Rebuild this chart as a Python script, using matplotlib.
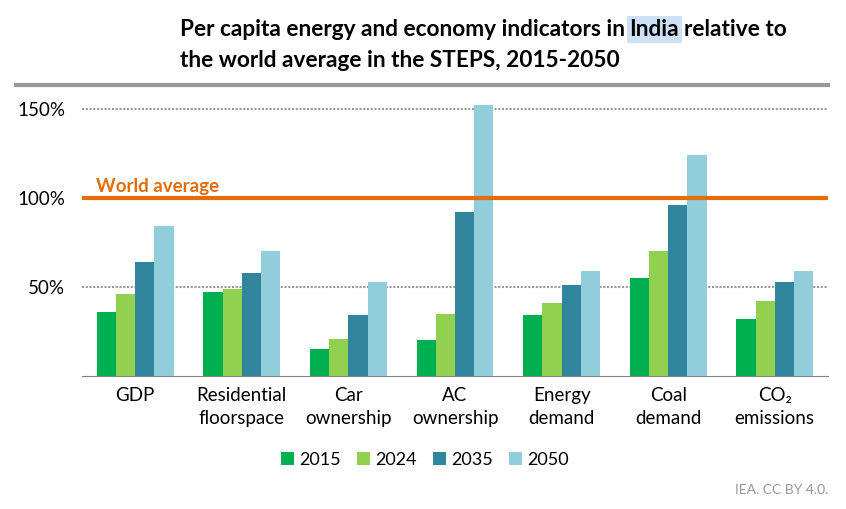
import matplotlib.pyplot as plt
import numpy as np

categories = ["GDP", "Residential\nfloorspace", "Car\nownership", "AC\nownership",
              "Energy\ndemand", "Coal\ndemand", "CO₂\nemissions"]
years = ["2015", "2024", "2035", "2050"]
v2015 = [36, 47, 15, 20, 34, 55, 32]
v2024 = [46, 49, 21, 35, 41, 70, 42]
v2035 = [64, 58, 34, 92, 51, 96, 53]
v2050 = [84, 70, 53, 152, 59, 124, 59]
colors = ["#00b050", "#92d050", "#31859c", "#92cddc"]

plt.rcParams['font.family'] = ['Lato', 'DejaVu Sans']

fig = plt.figure(figsize=(8.46, 5.09), dpi=100)
ax = fig.add_axes([82/846, 1-376/509, 746/846, (376-99.8)/509])

x = np.arange(len(categories))
w = 0.18
for i, (vals, c, lab) in enumerate(zip([v2015, v2024, v2035, v2050], colors, years)):
    ax.bar(x + (i - 1.5) * w, vals, w, color=c, label=lab, zorder=3)

ax.set_xlim(-0.5, len(categories) - 0.5)
ax.set_ylim(0, 155)
for y in [50, 150]:
    ax.axhline(y, color="#999999", linestyle=(0, (1, 0.8)), linewidth=1.5, zorder=1)
ax.axhline(100, color="#e46c0a", linewidth=3, zorder=4)
ax.text(14/746, 103, "World average", color="#e46c0a", fontsize=13.5, fontweight="bold",
        transform=ax.get_yaxis_transform())

ax.set_yticks([50, 100, 150])
ax.set_yticklabels(["50%", "100%", "150%"], fontsize=13.5)
ax.set_xticks(x)
ax.set_xticklabels(categories, fontsize=13.5, linespacing=1.45)
ax.tick_params(length=0, pad=8)
ax.tick_params(axis="y", pad=12)
for s in ["top", "right", "left"]:
    ax.spines[s].set_visible(False)
ax.spines["bottom"].set_color("#808080")

ax.legend(loc="upper center", bbox_to_anchor=(0.46, -0.215), ncol=4, frameon=False,
          fontsize=13, handlelength=0.7, handleheight=0.7, handletextpad=0.3,
          columnspacing=0.9)

# title, with the highlighted word "India"
tsize = 16.3
t1 = fig.text(180/846, 1-36/509, "Per capita energy and economy indicators in",
              fontsize=tsize, fontweight="bold", va="baseline")
t2 = fig.text(0, 0, "India", fontsize=tsize, fontweight="bold", va="baseline")
t2.set_bbox(dict(facecolor="#cde0f4", edgecolor="none", pad=2))
t3 = fig.text(0, 0, "relative to", fontsize=tsize, fontweight="bold", va="baseline")
fig.canvas.draw()
r = fig.canvas.get_renderer()
inv = fig.transFigure.inverted()
space = 4.5 / 846
e1 = inv.transform(t1.get_window_extent(r))
t2.set_position((e1[1, 0] + space, 1-36/509))
e2 = inv.transform(t2.get_window_extent(r))
t3.set_position((e2[1, 0] + space, 1-36/509))
fig.text(180/846, 1-67/509, "the world average in the STEPS, 2015-2050",
         fontsize=tsize, fontweight="bold", va="baseline")
fig.add_artist(plt.Line2D([16/846, 828/846], [1-85/509, 1-85/509], color="#999999", linewidth=3))
fig.text(828/846, 1-490/509, "IEA. CC BY 4.0.", fontsize=10, color="#999999", ha="right", va="center")

plt.savefig("out.png", dpi=100)
